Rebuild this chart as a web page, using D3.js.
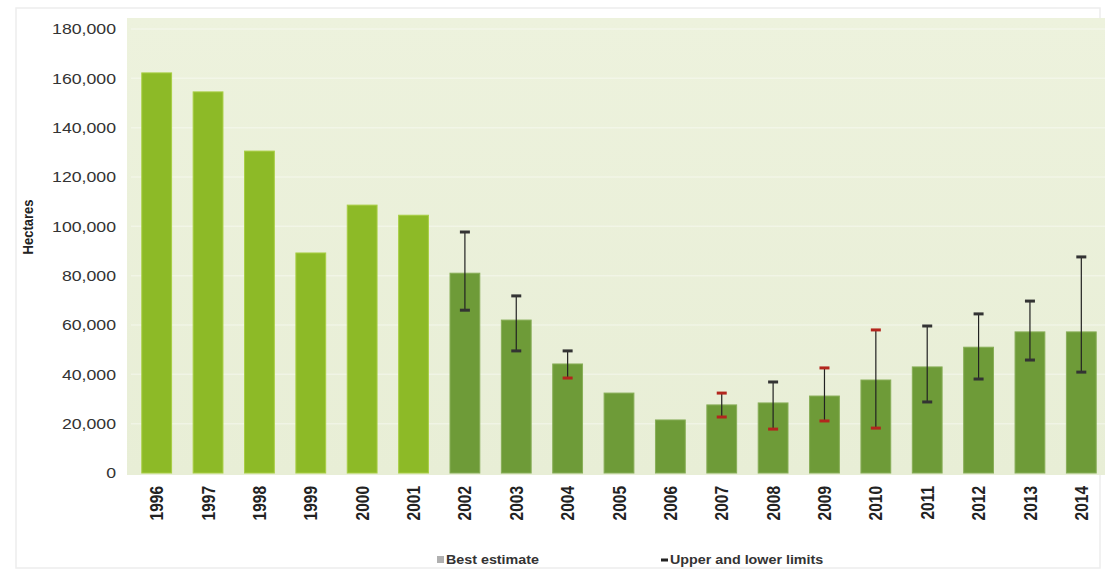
<!DOCTYPE html>
<html><head><meta charset="utf-8">
<script src="https://cdn.jsdelivr.net/npm/d3@7"></script>
<style>body{margin:0;background:#fff;font-family:"Liberation Sans",Arial,sans-serif;}</style>
</head><body><svg id="c" width="1105" height="579"></svg>
<script>
const years = ["1996","1997","1998","1999","2000","2001","2002","2003","2004","2005","2006","2007","2008","2009","2010","2011","2012","2013","2014"];
const bestEstimate = [162200,154500,130500,89200,108600,104500,81000,62000,44200,32400,21500,27600,28400,31200,37700,43000,51000,57200,57200];
const upperLimit = [null,null,null,null,null,null,97700,71800,49500,null,null,32400,36900,42600,58000,59600,64500,69700,87600];
const lowerLimit = [null,null,null,null,null,null,66000,49500,38500,null,null,22700,17800,21100,18200,28800,38100,45800,40900];
const yTicks = [0,20000,40000,60000,80000,100000,120000,140000,160000,180000];

const FONT = "'Liberation Sans',Arial,sans-serif";
const SX = 1.18; // horizontal stretch of the original image
const svg = d3.select("#c");
const m = {l:131, r:1107, t:29, b:473};
const x = d3.scaleBand().domain(years).range([m.l, m.r]).paddingInner(0.42).paddingOuter(0.21);
const y = d3.scaleLinear().domain([0,180000]).range([m.b, m.t]);

// outer frame
svg.append("rect").attr("x",16).attr("y",8).attr("width",1084).attr("height",560)
  .attr("fill","none").attr("stroke","#ededed").attr("stroke-width",1.5);

// plot background
const defs = svg.append("defs");
const g1 = defs.append("linearGradient").attr("id","bg").attr("x1",0).attr("y1",0).attr("x2",0).attr("y2",1);
g1.append("stop").attr("offset","0%").attr("stop-color","#edf2dd");
g1.append("stop").attr("offset","100%").attr("stop-color","#e8eed6");
svg.append("rect").attr("x",m.l-4).attr("y",m.t-11).attr("width",1105-m.l+4).attr("height",m.b-m.t+13)
  .attr("fill","url(#bg)");

// faint gridlines
svg.append("g").selectAll("line").data(yTicks.filter(d=>d>0)).join("line")
  .attr("x1",m.l).attr("x2",1105).attr("y1",d=>y(d)).attr("y2",d=>y(d))
  .attr("stroke","#ffffff").attr("stroke-opacity",0.35).attr("stroke-width",1.5);

// bars
svg.append("g").selectAll("rect").data(years).join("rect")
  .attr("x",d=>x(d)).attr("width",x.bandwidth())
  .attr("y",(d,i)=>y(bestEstimate[i])).attr("height",(d,i)=>y(0)-y(bestEstimate[i]))
  .attr("fill",(d,i)=>i<6?"#8dba27":"#6e9b38")
  .attr("stroke",(d,i)=>i<6?"#a8ce44":"#88ae58").attr("stroke-width",1);

// error bars
const errIdx = years.map((d,i)=>i).filter(i=>upperLimit[i]!=null);
const redUpper = ["2007","2009","2010"];
const redLower = ["2004","2007","2008","2009","2010"];
const eg = svg.append("g");
errIdx.forEach(i=>{
  const cx = x(years[i]) + x.bandwidth()/2;
  eg.append("line").attr("x1",cx).attr("x2",cx).attr("y1",y(upperLimit[i])).attr("y2",y(lowerLimit[i]))
    .attr("stroke","#222").attr("stroke-width",1.2);
  eg.append("line").attr("x1",cx-5).attr("x2",cx+5).attr("y1",y(upperLimit[i])).attr("y2",y(upperLimit[i]))
    .attr("stroke",redUpper.includes(years[i])?"#b3261e":"#333").attr("stroke-width",3);
  eg.append("line").attr("x1",cx-5).attr("x2",cx+5).attr("y1",y(lowerLimit[i])).attr("y2",y(lowerLimit[i]))
    .attr("stroke",redLower.includes(years[i])?"#b3261e":"#333").attr("stroke-width",3);
});

// y axis
const ya = svg.append("g").attr("transform",`translate(${m.l-15},0)`)
  .call(d3.axisLeft(y).tickValues(yTicks).tickFormat(d3.format(",")).tickSize(0));
ya.select(".domain").remove();
ya.selectAll(".tick text").attr("font-size",15).attr("fill","#333").attr("font-family",FONT)
  .attr("x",0).attr("transform",`scale(${SX},1)`);

svg.append("text").attr("transform",`translate(33,227) scale(${SX},1) rotate(-90)`)
  .attr("text-anchor","middle").attr("font-size",13).attr("font-weight","bold").attr("fill","#222")
  .attr("font-family",FONT).text("Hectares");

// x axis
const xa = svg.append("g").attr("transform",`translate(0,${m.b})`)
  .call(d3.axisBottom(x).tickSize(0));
xa.select(".domain").remove();
xa.selectAll(".tick text").attr("transform",`scale(${SX},1) rotate(-90)`).attr("text-anchor","end")
  .attr("x",-13).attr("y",0).attr("dy","0.36em")
  .attr("font-size",15.5).attr("font-weight","bold").attr("fill","#222")
  .attr("font-family",FONT);

// legend
const lg = svg.append("g");
lg.append("rect").attr("x",437).attr("y",556).attr("width",7).attr("height",7).attr("fill","#b0b0b0");
lg.append("text").attr("transform","translate(446,564) scale(1.1,1)").attr("font-size",13).attr("font-weight","bold")
  .attr("fill","#333").attr("font-family",FONT).text("Best estimate");
lg.append("rect").attr("x",661).attr("y",558.5).attr("width",7).attr("height",3).attr("fill","#222");
lg.append("text").attr("transform","translate(670,564) scale(1.1,1)").attr("font-size",13).attr("font-weight","bold")
  .attr("fill","#333").attr("font-family",FONT).text("Upper and lower limits");
</script></body></html>
